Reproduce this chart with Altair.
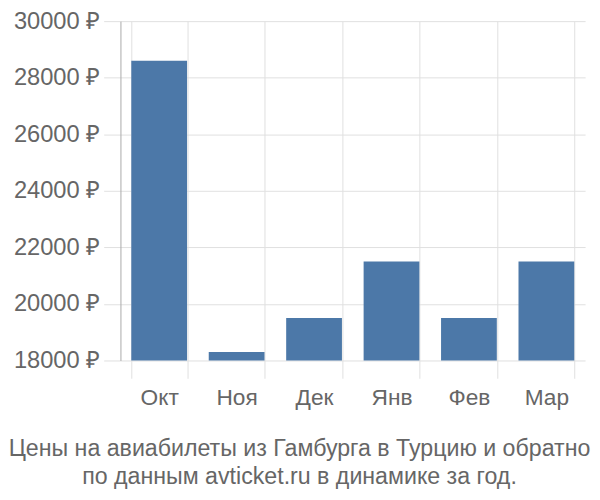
import altair as alt
import pandas as pd

months = ["Окт", "Ноя", "Дек", "Янв", "Фев", "Мар"]
prices = [28600, 18300, 19500, 21500, 19500, 21500]
y_ticks = [18000, 20000, 22000, 24000, 26000, 28000, 30000]
title_lines = ["Цены на авиабилеты из Гамбурга в Турцию и обратно",
               "по данным avticket.ru в динамике за год."]

df = pd.DataFrame({"month": months, "price": prices})

FONT = "Liberation Sans"
GRID = "#e0e0e0"
TXT = "#666666"

chart = alt.Chart(df).mark_bar(color="#4c78a8").encode(
    x=alt.X("month:N", sort=months, title=None,
            scale=alt.Scale(paddingInner=0.28, paddingOuter=0.14),
            axis=alt.Axis(labelAngle=0, grid=True, gridColor=GRID, tickBand="extent",
                          tickColor=GRID, tickSize=18, domain=False,
                          labelFont=FONT, labelFontSize=23, labelColor=TXT, labelPadding=9)),
    y=alt.Y("price:Q", title=None,
            scale=alt.Scale(domain=[18000, 30000], zero=False, nice=False),
            axis=alt.Axis(values=y_ticks, labelExpr="format(datum.value, 'd') + ' ₽'",
                          grid=True, gridColor=GRID, tickColor=GRID, tickSize=17,
                          domainColor="#aaaaaa", labelFont=FONT, labelFontSize=24,
                          labelColor=TXT, labelPadding=4)),
    y2=alt.datum(18000),
).properties(
    width=471, height=344,
    autosize=alt.AutoSizeParams(type="none"),
    padding={"left": 114, "top": 10, "right": 7, "bottom": 130},
    title=alt.TitleParams(text=title_lines, orient="bottom", anchor="middle", frame="group",
                          font=FONT, fontSize=23.5, fontWeight="normal", color=TXT,
                          dx=-54, offset=28, lineHeight=28),
).configure_view(stroke=None)

chart.save("out.html", embed_options={"renderer": "svg", "actions": False})
